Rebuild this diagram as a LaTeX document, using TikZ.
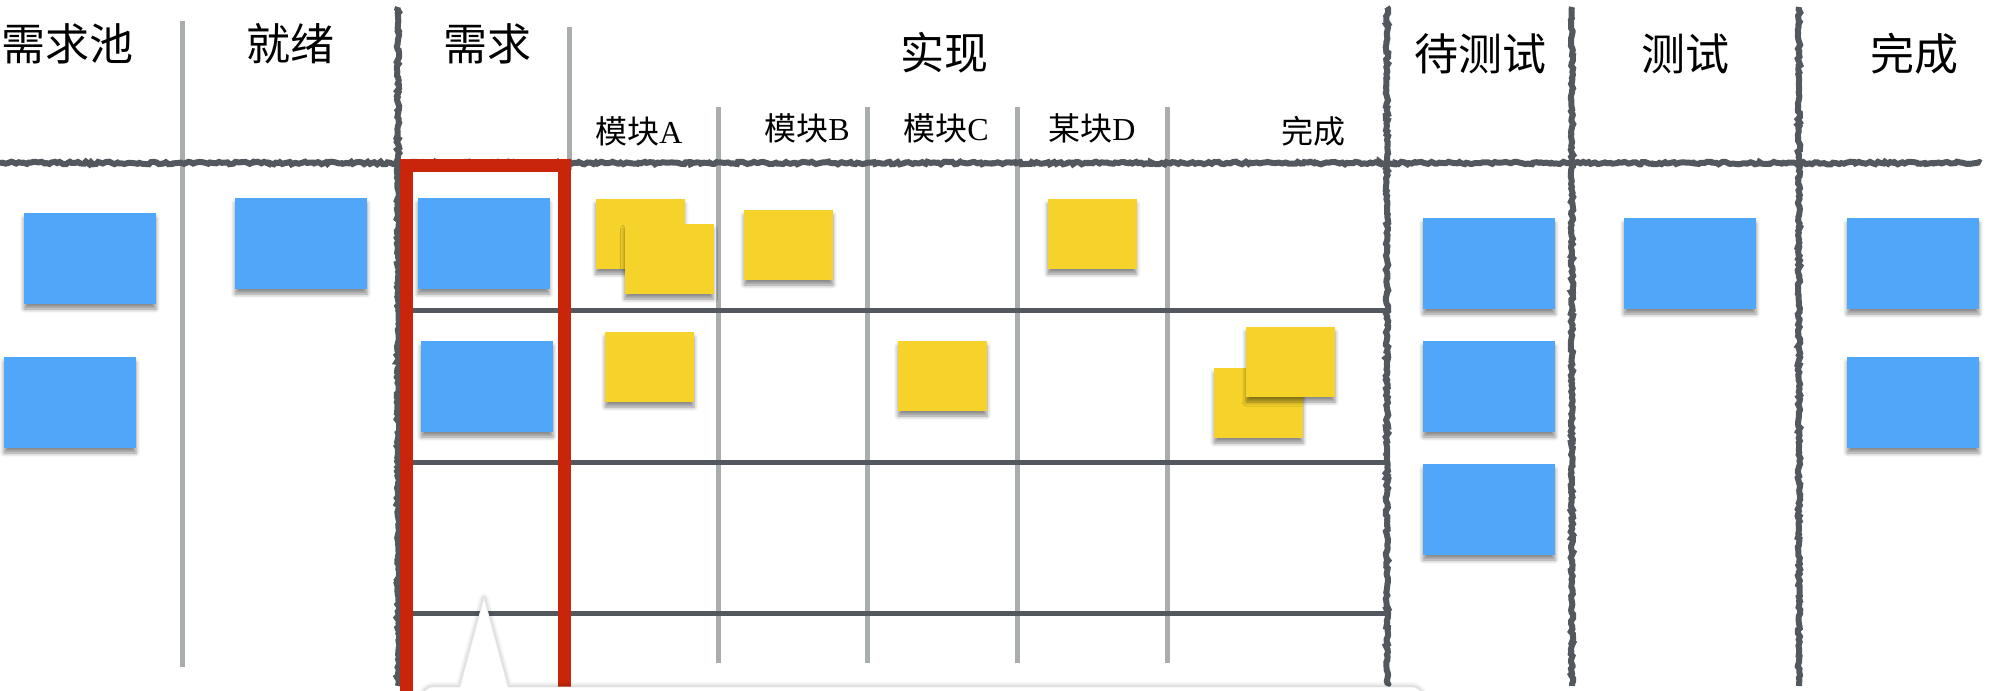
\documentclass[tikz,border=0pt]{standalone}
\usepackage{fontspec}
\setmainfont{Liberation Serif}
\newfontfamily\cjk{Noto Sans CJK SC}
\usetikzlibrary{decorations.pathmorphing,shadows.blur}
\definecolor{cardblue}{HTML}{50A6F9}
\definecolor{cardyellow}{HTML}{F6D32B}
\definecolor{boardred}{HTML}{C9250A}
\definecolor{roughgray}{HTML}{52585E}
\definecolor{rulegray}{HTML}{A9ADAD}
\begin{document}
\begin{tikzpicture}[x=0.5pt,y=-0.5pt,
  roughline/.style={draw=roughgray, line width=3pt, decorate,
    decoration={random steps, segment length=1.3pt, amplitude=0.65pt}},
  lightrule/.style={draw=rulegray, line width=2.5pt},
  rowrule/.style={draw=roughgray, line width=2.5pt},
  cardshadow/.style={blur shadow={shadow xshift=0pt, shadow yshift=-2.5pt,
    shadow blur radius=2pt, shadow opacity=45}},
  bluecard/.style={fill=cardblue, minimum width=66pt, minimum height=45.5pt,
    inner sep=0pt, cardshadow},
  yellowcard/.style={fill=cardyellow, minimum width=44.5pt, minimum height=35pt,
    inner sep=0pt, cardshadow},
  head/.style={font=\cjk\fontsize{22}{26}\selectfont, inner sep=0pt},
  subhead/.style={font=\fontsize{16}{19}\selectfont, inner sep=0pt}
]
\useasboundingbox (0,0) rectangle (2010,691);
\clip (0,0) rectangle (2010,691);
\pgfmathsetseed{7}

% light column rules
\draw[lightrule] (182,21) -- (182,667);
\draw[lightrule] (569,27) -- (569,170);
\foreach \xx in {718,867,1017,1167} {
  \draw[lightrule] (\xx,107) -- (\xx,663);
}

% row rules
\foreach \yy in {310,462,613} {
  \draw[rowrule] (405,\yy) -- (1387,\yy);
}

% hand-drawn rules
\draw[roughline] (0,163) -- (1981,163);
\foreach \xx in {398,1387,1572,1799} {
  \draw[roughline] (\xx,7) -- (\xx,686);
}

% red frame around the 需求 column
\draw[boardred, line width=6.5pt] (406.5,720) -- (406.5,165.5) -- (564.5,165.5) -- (564.5,720);

% headers
\node[head] (hpool) at (68,44) {需求池};
\node[head] (hready) at (290,44) {就绪};
\node[head] (hreq) at (487,44) {需求};
\node[head] (himpl) at (944,53) {实现};
\node[head] (hwait) at (1480,54) {待测试};
\node[head] (htest) at (1685,54) {测试};
\node[head] (hdone) at (1914,54) {完成};

\node[subhead] (sa) at (639,131) {{\cjk 模块}A};
\node[subhead] (sb) at (807,128) {{\cjk 模块}B};
\node[subhead] (sc) at (946,128) {{\cjk 模块}C};
\node[subhead] (sd) at (1092,128) {{\cjk 某块}D};
\node[subhead] (se) at (1313,131) {{\cjk 完成}};

% blue cards
\node[bluecard] (b1) at (90,258.5) {};
\node[bluecard] (b2) at (70,402.5) {};
\node[bluecard] (b3) at (301,243.5) {};
\node[bluecard] (b4) at (483.5,243.5) {};
\node[bluecard] (b5) at (487,386.5) {};
\node[bluecard] (b6) at (1489,263.5) {};
\node[bluecard] (b7) at (1489,386.5) {};
\node[bluecard] (b8) at (1489,509.5) {};
\node[bluecard] (b9) at (1690,263.5) {};
\node[bluecard] (b10) at (1913,263.5) {};
\node[bluecard] (b11) at (1913,402.5) {};

% yellow cards
\node[yellowcard] (y1) at (640,234) {};
\node[yellowcard] (y2) at (669,259) {};
\node[yellowcard] (y3) at (788.5,245) {};
\node[yellowcard] (y4) at (1092,234) {};
\node[yellowcard] (y5) at (649.5,367) {};
\node[yellowcard] (y6) at (942.5,376) {};
\node[yellowcard] (y7) at (1258.5,403) {};
\node[yellowcard] (y8) at (1290.5,362) {};

% callout bubble at the bottom
\path[fill=white, draw=black!7, line width=0.4pt,
  blur shadow={shadow xshift=0pt, shadow yshift=0pt, shadow blur radius=2.5pt, shadow opacity=35}]
  (423,740) [rounded corners=5pt] -- (423,687) [sharp corners] -- (460,687) -- (484,598)
  -- (508,687) [rounded corners=5pt] -- (1422,687) [sharp corners] -- (1422,740) -- cycle;
\end{tikzpicture}
\end{document}
